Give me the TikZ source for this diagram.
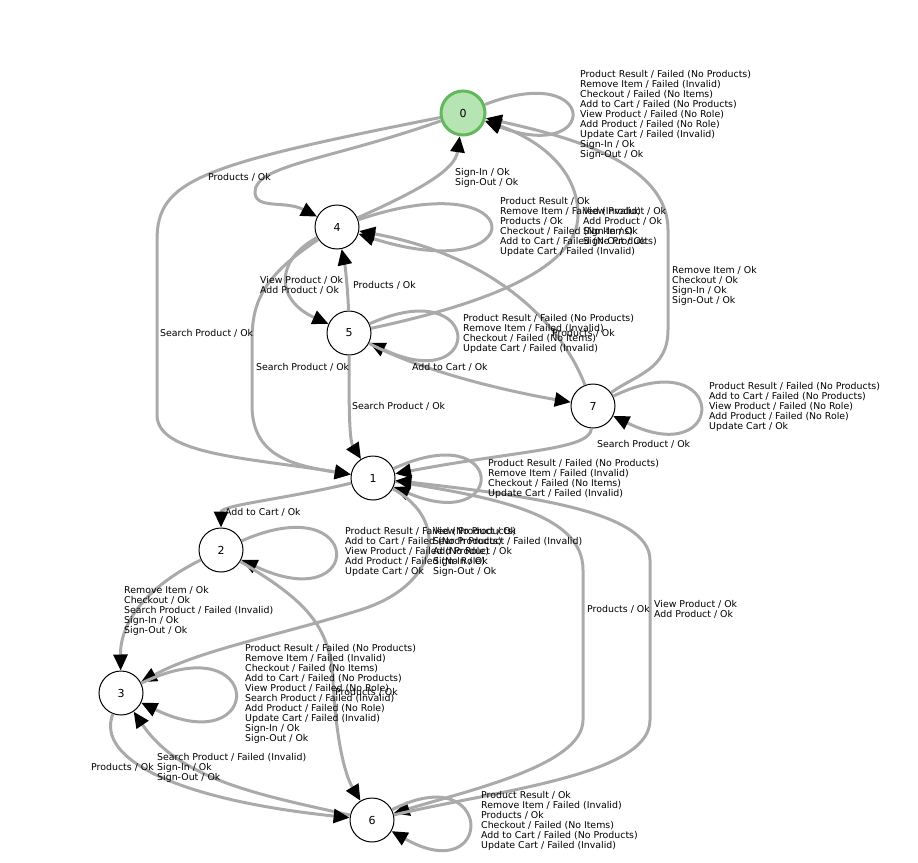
\documentclass[tikz,border=0pt]{standalone}
\usepackage{fontspec}
\setmainfont{DejaVu Sans}
\usetikzlibrary{arrows.meta}
\definecolor{edgegray}{RGB}{170,170,170}
\definecolor{startfill}{RGB}{182,228,178}
\definecolor{startdraw}{RGB}{98,184,94}

\begin{document}
\begin{tikzpicture}[x=1pt, y=-1pt,
        state/.style={circle, draw=black, line width=1pt, fill=white, minimum size=44pt, inner sep=0pt, font=\fontsize{11}{13}\selectfont},
        start/.style={state, draw=startdraw, fill=startfill, line width=3pt},
        trans/.style={draw=edgegray, line width=3pt, -{Triangle[length=16pt, width=14pt, color=black]}},
        lbl/.style={anchor=north west, inner sep=0pt, align=left, font=\fontsize{9.4}{10}\selectfont}]
        \useasboundingbox (0,0) rectangle (918,862);

        \node[start] (s0) at (463,113) {0};
        \node[state] (s4) at (337,227) {4};
        \node[state] (s5) at (349,333) {5};
        \node[state] (s7) at (593,406) {7};
        \node[state] (s1) at (373,478) {1};
        \node[state] (s2) at (221,550) {2};
        \node[state] (s3) at (121,693) {3};
        \node[state] (s6) at (372,820) {6};

        \draw[trans] (s0) .. controls (600,60) and (600,165) .. (s0);
        \draw[trans] (s0) .. controls (330,160) and (255,165) .. (255,192) .. controls (255,210) and (285,200) .. (s4);
        \draw[trans] (s0) .. controls (200,165) and (157,180) .. (157,240) -- (157,415) .. controls (157,455) and (250,458) .. (s1);
        \draw[trans] (s4) .. controls (420,190) and (455,170) .. (s0);
        \draw[trans] (s4) .. controls (534,160) and (534,290) .. (s4);
        \draw[trans] (s4) .. controls (275,260) and (275,300) .. (s5);
        \draw[trans] (s4) .. controls (265,275) and (252,300) .. (252,340) -- (252,405) .. controls (252,455) and (290,465) .. (s1);
        \draw[trans] (s5) .. controls (348,290) and (345,265) .. (s4);
        \draw[trans] (s5) .. controls (349,400) and (349,440) .. (s1);
        \draw[trans] (s5) .. controls (485,272) and (485,398) .. (s5);
        \draw[trans] (s5) .. controls (420,370) and (500,390) .. (s7);
        \draw[trans] (s5) .. controls (480,305) and (578,270) .. (578,215) .. controls (578,170) and (540,140) .. (s0);
        \draw[trans] (s7) .. controls (635,375) and (668,370) .. (668,330) -- (668,230) .. controls (668,160) and (560,135) .. (s0);
        \draw[trans] (s7) .. controls (560,320) and (490,255) .. (s4);
        \draw[trans] (s7) .. controls (729,340) and (729,473) .. (s7);
        \draw[trans] (s7) .. controls (590,450) and (520,450) .. (s1);
        \draw[trans] (s1) .. controls (508,416) and (508,536) .. (s1);
        \draw[trans] (s1) .. controls (280,500) and (221,505) .. (s2);
        \draw[trans] (s1) .. controls (450,520) and (440,585) .. (360,610) .. controls (280,635) and (200,650) .. (s3);
        \draw[trans] (s1) .. controls (500,498) and (583,515) .. (583,570) -- (583,720) .. controls (583,765) and (470,790) .. (s6);
        \draw[trans] (s6) .. controls (500,790) and (650,775) .. (650,720) -- (650,560) .. controls (650,510) and (520,495) .. (s1);
        \draw[trans] (s6) .. controls (495,757) and (495,890) .. (s6);
        \draw[trans] (s6) .. controls (260,795) and (180,780) .. (s3);
        \draw[trans] (s3) .. controls (95,760) and (180,800) .. (s6);
        \draw[trans] (s3) .. controls (266,623) and (266,763) .. (s3);
        \draw[trans] (s2) .. controls (150,585) and (120,620) .. (s3);
        \draw[trans] (s2) .. controls (366,486) and (366,619) .. (s2);
        \draw[trans] (s2) .. controls (305,600) and (330,625) .. (333,680) .. controls (336,740) and (345,775) .. (s6);

        \node[lbl] (l00) at (580,70) {Product Result / Failed (No Products)\\Remove Item / Failed (Invalid)\\Checkout / Failed (No Items)\\Add to Cart / Failed (No Products)\\View Product / Failed (No Role)\\Add Product / Failed (No Role)\\Update Cart / Failed (Invalid)\\Sign-In / Ok\\Sign-Out / Ok};
        \node[lbl] (l04) at (208,173) {Products / Ok};
        \node[lbl] (l01) at (160,329) {Search Product / Ok};
        \node[lbl] (l40) at (455,168) {Sign-In / Ok\\Sign-Out / Ok};
        \node[lbl] (l44) at (500,197) {Product Result / Ok\\Remove Item / Failed (Invalid)\\Products / Ok\\Checkout / Failed (No Items)\\Add to Cart / Failed (No Products)\\Update Cart / Failed (Invalid)};
        \node[lbl] (l50) at (583,207) {View Product / Ok\\Add Product / Ok\\Sign-In / Ok\\Sign-Out / Ok};
        \node[lbl] (l45) at (260,276) {View Product / Ok\\Add Product / Ok};
        \node[lbl] (l54) at (353,281) {Products / Ok};
        \node[lbl] (l41) at (256,363) {Search Product / Ok};
        \node[lbl] (l51) at (352,402) {Search Product / Ok};
        \node[lbl] (l55) at (463,314) {Product Result / Failed (No Products)\\Remove Item / Failed (Invalid)\\Checkout / Failed (No Items)\\Update Cart / Failed (Invalid)};
        \node[lbl] (l57) at (412,363) {Add to Cart / Ok};
        \node[lbl] (l74) at (552,329) {Products / Ok};
        \node[lbl] (l70) at (672,266) {Remove Item / Ok\\Checkout / Ok\\Sign-In / Ok\\Sign-Out / Ok};
        \node[lbl] (l77) at (709,382) {Product Result / Failed (No Products)\\Add to Cart / Failed (No Products)\\View Product / Failed (No Role)\\Add Product / Failed (No Role)\\Update Cart / Ok};
        \node[lbl] (l71) at (597,440) {Search Product / Ok};
        \node[lbl] (l11) at (488,459) {Product Result / Failed (No Products)\\Remove Item / Failed (Invalid)\\Checkout / Failed (No Items)\\Update Cart / Failed (Invalid)};
        \node[lbl] (l12) at (225,508) {Add to Cart / Ok};
        \node[lbl] (l13) at (433,527) {View Product / Ok\\Search Product / Failed (Invalid)\\Add Product / Ok\\Sign-In / Ok\\Sign-Out / Ok};
        \node[lbl] (l16) at (587,605) {Products / Ok};
        \node[lbl] (l61) at (654,600) {View Product / Ok\\Add Product / Ok};
        \node[lbl] (l22) at (345,527) {Product Result / Failed (No Products)\\Add to Cart / Failed (No Products)\\View Product / Failed (No Role)\\Add Product / Failed (No Role)\\Update Cart / Ok};
        \node[lbl] (l23) at (124,586) {Remove Item / Ok\\Checkout / Ok\\Search Product / Failed (Invalid)\\Sign-In / Ok\\Sign-Out / Ok};
        \node[lbl] (l26) at (335,688) {Products / Ok};
        \node[lbl] (l33) at (245,644) {Product Result / Failed (No Products)\\Remove Item / Failed (Invalid)\\Checkout / Failed (No Items)\\Add to Cart / Failed (No Products)\\View Product / Failed (No Role)\\Search Product / Failed (Invalid)\\Add Product / Failed (No Role)\\Update Cart / Failed (Invalid)\\Sign-In / Ok\\Sign-Out / Ok};
        \node[lbl] (l36) at (91,763) {Products / Ok};
        \node[lbl] (l63) at (157,753) {Search Product / Failed (Invalid)\\Sign-In / Ok\\Sign-Out / Ok};
        \node[lbl] (l66) at (481,791) {Product Result / Ok\\Remove Item / Failed (Invalid)\\Products / Ok\\Checkout / Failed (No Items)\\Add to Cart / Failed (No Products)\\Update Cart / Failed (Invalid)};
    \end{tikzpicture}
\end{document}
